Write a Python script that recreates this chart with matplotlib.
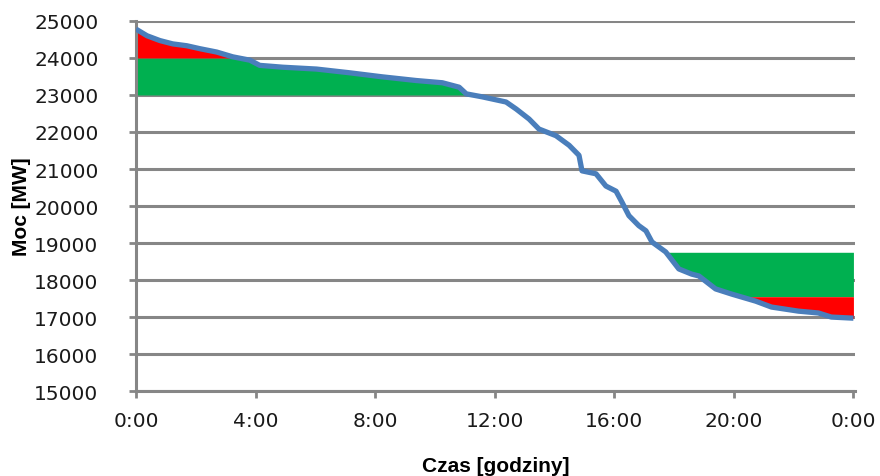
import numpy as np
import matplotlib.pyplot as plt

# dane (godziny, moc w MW)
godziny = [0.0, 0.37, 0.80, 1.23, 1.70, 2.14, 2.70, 3.24, 3.81, 4.14, 4.91, 6.04,
           7.14, 8.24, 9.38, 10.25, 10.81, 11.05, 11.58, 12.38, 12.72, 13.15, 13.48,
           14.05, 14.49, 14.82, 14.92, 15.39, 15.72, 16.06, 16.26, 16.49, 16.82,
           17.06, 17.26, 17.72, 18.16, 18.59, 18.83, 19.39, 19.93, 20.73, 21.26,
           22.16, 22.83, 23.26, 24.0]
moc = [24780, 24600, 24470, 24380, 24330, 24250, 24160, 24030, 23940, 23800, 23750,
       23700, 23600, 23490, 23390, 23330, 23210, 23030, 22950, 22810, 22620, 22350,
       22080, 21900, 21640, 21370, 20950, 20870, 20540, 20400, 20100, 19740, 19470,
       19330, 19030, 18760, 18300, 18160, 18110, 17760, 17620, 17430, 17270, 17160,
       17110, 17000, 16970]

# progi obszarow
dol_rano = 23000
prog_rano = 24000
gora_wieczor = 18750
prog_wieczor = 17550

x_ticks = [0, 4, 8, 12, 16, 20, 24]
x_labels = ["0:00", "4:00", "8:00", "12:00", "16:00", "20:00", "0:00"]
y_ticks = list(range(15000, 25001, 1000))

zielony = "#00B050"
czerwony = "#FF0000"
niebieski = "#4A7EBB"
szary = "#868686"

h = np.linspace(0, 24, 2000)
m = np.interp(h, godziny, moc)

fig = plt.figure(figsize=(8.8, 4.77), dpi=100)
ax = fig.add_axes([0.1545, 0.178, 0.817, 0.776])

# rano: zielony 23000..min(krzywa,24000), czerwony 24000..krzywa
ax.fill_between(h, dol_rano, np.minimum(m, prog_rano), where=(m >= dol_rano) & (h < 12),
                color=zielony, linewidth=0, interpolate=True)
ax.fill_between(h, prog_rano, m, where=(m >= prog_rano),
                color=czerwony, linewidth=0, interpolate=True)
# wieczor: zielony max(krzywa,17550)..18750, czerwony krzywa..17550
ax.fill_between(h, np.maximum(m, prog_wieczor), gora_wieczor, where=(m <= gora_wieczor),
                color=zielony, linewidth=0, interpolate=True)
ax.fill_between(h, m, prog_wieczor, where=(m <= prog_wieczor),
                color=czerwony, linewidth=0, interpolate=True)

ax.plot(godziny, moc, color=niebieski, linewidth=3.8, solid_capstyle="butt", zorder=5)

ax.set_xlim(0, 24.05)
ax.set_ylim(15000, 25000)
ax.set_xticks(x_ticks)
ax.set_xticklabels(x_labels)
ax.set_yticks(y_ticks)

ax.yaxis.grid(True, color=szary, linewidth=2.2)
ax.set_axisbelow(True)
for s in ["top", "right"]:
    ax.spines[s].set_visible(False)
for s in ["left", "bottom"]:
    ax.spines[s].set_color(szary)
    ax.spines[s].set_linewidth(2.2)
ax.tick_params(axis="both", colors=szary, width=2, length=5, labelcolor="#1a1a1a",
               labelsize=14.5)
ax.tick_params(axis="y", pad=22)
ax.tick_params(axis="x", pad=9)

ax.set_xlabel("Czas [godziny]", fontsize=15, fontweight="bold",
              family="Liberation Sans", labelpad=19)
ax.set_ylabel("Moc [MW]", fontsize=15, fontweight="bold",
              family="Liberation Sans", labelpad=2)

fig.savefig("out.png", dpi=100)
